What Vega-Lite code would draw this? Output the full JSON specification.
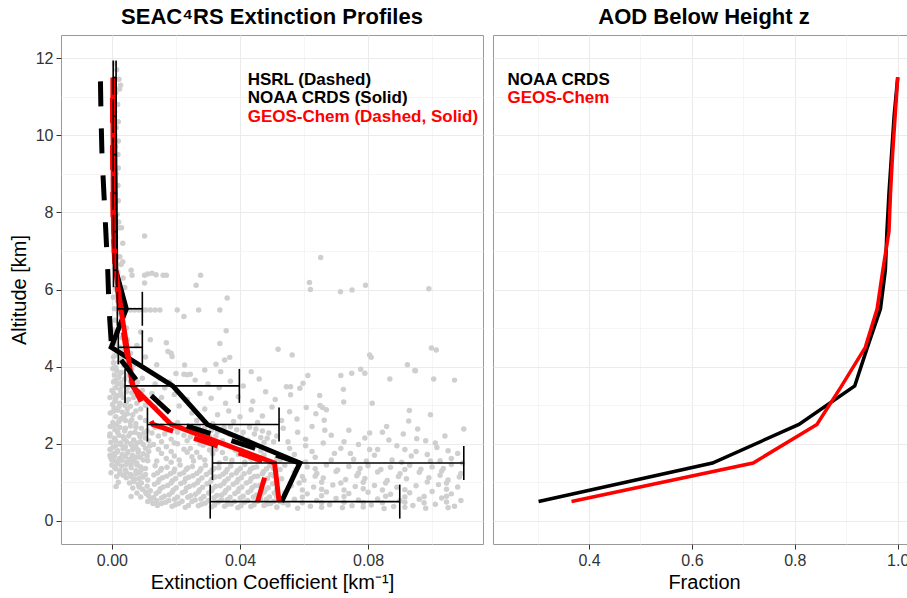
{
"$schema":"https://vega.github.io/schema/vega-lite/v6.json",
"padding":{"left":8,"top":5,"right":0,"bottom":0},
"bounds":"flush",
"spacing":10,
"config":{
 "font":"Liberation Sans",
 "view":{"stroke":"#999999","strokeWidth":1},
 "axis":{"labelFontSize":16,"labelColor":"#333333","titleFontSize":20,"titleFontWeight":"normal","titleColor":"black","tickColor":"#333333","tickSize":5,"domain":false,"labelPadding":3},
 "title":{"fontSize":22,"fontWeight":"bold","color":"black","anchor":"middle","offset":6}
},
"datasets":{
"pts":[
{"e":0.0008,"z":11.85},{"e":0.0015,"z":11.7},{"e":0.0022,"z":11.45},{"e":0.0027,"z":11.3},{"e":0.0024,"z":11.2},{"e":0.0012,"z":11.1},{"e":0.0005,"z":10.95},{"e":0.0018,"z":10.8},{"e":0.0009,"z":10.6},{"e":0.002,"z":10.35},{"e":0.0014,"z":10.2},{"e":0.0006,"z":10.05},{"e":0.002,"z":9.85},{"e":0.0011,"z":9.7},{"e":0.0019,"z":9.5},{"e":0.0008,"z":9.35},{"e":0.002,"z":9.15},{"e":0.0013,"z":9.0},{"e":0.0004,"z":8.85},{"e":0.0019,"z":8.7},{"e":0.001,"z":8.5},{"e":0.002,"z":8.3},{"e":0.0007,"z":8.15},{"e":0.0016,"z":7.95},{"e":0.0021,"z":7.75},{"e":0.0024,"z":7.6},{"e":0.003,"z":7.6},{"e":0.0034,"z":7.2},{"e":0.0012,"z":7.35},{"e":0.0005,"z":7.0},{"e":0.0025,"z":6.85},{"e":0.0029,"z":6.65},{"e":0.0034,"z":6.72},{"e":0.0008,"z":6.55},{"e":0.0018,"z":6.45},{"e":0.0035,"z":6.3},{"e":0.002,"z":6.2},{"e":0.004,"z":6.05},{"e":0.0012,"z":6.0},{"e":0.0027,"z":5.9},
{"e":0.0102,"z":7.39},{"e":0.0652,"z":6.83},{"e":0.0063,"z":6.37},{"e":0.0102,"z":6.37},{"e":0.0112,"z":6.4},{"e":0.0125,"z":6.42},{"e":0.0138,"z":6.38},{"e":0.016,"z":6.37},{"e":0.017,"z":6.37},{"e":0.0277,"z":6.37},{"e":0.0102,"z":6.17},{"e":0.0263,"z":6.11},{"e":0.0617,"z":6.18},{"e":0.062,"z":6.0},{"e":0.0714,"z":5.94},{"e":0.075,"z":5.99},{"e":0.0792,"z":6.11},{"e":0.099,"z":6.02},{"e":0.036,"z":5.78},{"e":0.006,"z":6.5},
{"e":0.0005,"z":5.8},{"e":0.0018,"z":5.7},{"e":0.003,"z":5.62},{"e":0.0008,"z":5.5},{"e":0.0022,"z":5.4},{"e":0.0035,"z":5.35},{"e":0.001,"z":5.2},{"e":0.0028,"z":5.1},{"e":0.0045,"z":5.0},{"e":0.0006,"z":4.95},{"e":0.0018,"z":4.85},{"e":0.0032,"z":4.75},{"e":0.0048,"z":4.7},{"e":0.0009,"z":4.6},{"e":0.0025,"z":4.5},{"e":0.004,"z":4.4},{"e":0.0058,"z":4.35},{"e":0.0012,"z":4.3},{"e":0.0028,"z":4.2},{"e":0.0045,"z":4.15},{"e":0.0005,"z":4.1},{"e":0.0068,"z":4.05},
{"e":0.003,"z":5.47},{"e":0.0045,"z":5.47},{"e":0.0058,"z":5.47},{"e":0.0071,"z":5.47},{"e":0.0084,"z":5.47},{"e":0.0097,"z":5.47},{"e":0.0106,"z":5.47},{"e":0.012,"z":5.47},{"e":0.0135,"z":5.47},{"e":0.015,"z":5.47},{"e":0.0204,"z":5.47},{"e":0.0271,"z":5.47},{"e":0.0337,"z":5.47},{"e":0.0225,"z":5.3},
{"e":0.0357,"z":4.93},{"e":0.0337,"z":4.6},{"e":0.0368,"z":4.24},{"e":0.0519,"z":4.45},{"e":0.0563,"z":4.3},{"e":0.017,"z":4.62},{"e":0.0175,"z":4.39},{"e":0.0185,"z":4.35},{"e":0.0188,"z":4.26},{"e":0.0805,"z":4.3},{"e":0.081,"z":4.24},{"e":0.0998,"z":4.48},{"e":0.1013,"z":4.43},{"e":0.009,"z":4.9},{"e":0.012,"z":4.7},{"e":0.0078,"z":4.55},{"e":0.0105,"z":4.25},{"e":0.014,"z":4.05},{"e":0.0227,"z":4.04},{"e":0.0352,"z":4.17},
{"e":0.0003,"z":3.95},{"e":0.0015,"z":3.9},{"e":0.003,"z":3.85},{"e":0.0008,"z":3.78},{"e":0.0022,"z":3.72},{"e":0.004,"z":3.68},{"e":0.0005,"z":3.6},{"e":0.0018,"z":3.55},{"e":0.0032,"z":3.5},{"e":0.0012,"z":3.45},{"e":0.0026,"z":3.4},{"e":0.0045,"z":3.35},{"e":0.0006,"z":3.3},{"e":0.002,"z":3.25},{"e":0.0035,"z":3.2},{"e":0.0052,"z":3.15},{"e":0.001,"z":3.1},{"e":0.0025,"z":3.05},{"e":0.004,"z":3.0},{"e":0.0058,"z":2.97},{"e":0.0007,"z":2.92},{"e":0.0018,"z":2.87},{"e":0.0032,"z":2.82},{"e":0.0048,"z":2.78},{"e":0.0065,"z":2.75},{"e":0.0012,"z":2.7},{"e":0.0028,"z":2.65},{"e":0.0042,"z":2.6},{"e":0.0057,"z":2.57},{"e":0.0003,"z":2.55},{"e":0.0075,"z":2.52},{"e":0.0015,"z":2.5},{"e":0.008,"z":3.6},{"e":0.0085,"z":3.25},{"e":0.009,"z":2.9},{"e":0.0068,"z":3.45},{"e":0.0095,"z":3.7},{"e":-0.0006,"z":3.2},{"e":-0.0005,"z":2.8},
{"e":0.02,"z":3.82},{"e":0.0225,"z":3.8},{"e":0.0235,"z":3.79},{"e":0.0245,"z":3.8},{"e":0.029,"z":3.91},{"e":0.0325,"z":4.06},{"e":0.034,"z":3.87},{"e":0.0435,"z":3.87},{"e":0.0545,"z":3.48},{"e":0.015,"z":3.7},{"e":0.0135,"z":3.55},{"e":0.0165,"z":3.45},{"e":0.018,"z":3.6},{"e":0.026,"z":3.65},{"e":0.03,"z":3.55},{"e":0.0335,"z":3.45},{"e":0.037,"z":3.62},{"e":0.041,"z":3.5},{"e":0.046,"z":3.68},{"e":0.0125,"z":3.3},{"e":0.0155,"z":3.2},{"e":0.0195,"z":3.28},{"e":0.0235,"z":3.15},{"e":0.0275,"z":3.3},{"e":0.031,"z":3.18},{"e":0.0355,"z":3.05},{"e":0.0395,"z":3.22},{"e":0.044,"z":3.1},{"e":0.048,"z":3.35},{"e":0.051,"z":3.15},{"e":0.0135,"z":2.95},{"e":0.0175,"z":2.85},{"e":0.021,"z":2.98},{"e":0.025,"z":2.8},{"e":0.029,"z":2.9},{"e":0.033,"z":2.75},{"e":0.0365,"z":2.85},{"e":0.04,"z":2.7},{"e":0.0435,"z":2.88},{"e":0.047,"z":2.72},{"e":0.05,"z":2.95},{"e":0.053,"z":2.6},{"e":0.0165,"z":2.65},{"e":0.0205,"z":2.55},{"e":0.0265,"z":2.6},{"e":0.0315,"z":2.52},{"e":0.038,"z":2.58},{"e":0.0455,"z":2.55},
{"e":0.0612,"z":3.77},{"e":0.0597,"z":3.57},{"e":0.0587,"z":3.44},{"e":0.0558,"z":3.48},{"e":0.0558,"z":3.27},{"e":0.0649,"z":3.25},{"e":0.0715,"z":3.77},{"e":0.0749,"z":3.83},{"e":0.0777,"z":3.93},{"e":0.079,"z":3.83},{"e":0.0723,"z":3.41},{"e":0.0724,"z":3.08},{"e":0.0813,"z":3.05},{"e":0.065,"z":2.99},{"e":0.0658,"z":2.94},{"e":0.067,"z":2.88},{"e":0.0607,"z":2.94},{"e":0.0637,"z":2.78},{"e":0.0663,"z":2.61},{"e":0.0578,"z":2.64},{"e":0.0555,"z":2.83},{"e":0.0923,"z":4.05},{"e":0.0946,"z":3.9},{"e":0.0948,"z":3.89},{"e":0.1005,"z":3.68},{"e":0.107,"z":3.65},{"e":0.0868,"z":3.68},{"e":0.0929,"z":2.86},{"e":0.0927,"z":2.59},{"e":0.0995,"z":2.75},{"e":0.1099,"z":2.38},{"e":0.0858,"z":2.45},{"e":0.0952,"z":2.13},
{"e":-0.0005,"z":2.45},{"e":0.0025,"z":2.42},{"e":0.0058,"z":2.46},{"e":0.0092,"z":2.4},{"e":0.001,"z":2.36},{"e":0.004,"z":2.33},{"e":0.0072,"z":2.3},{"e":0.011,"z":2.34},{"e":-0.0006,"z":2.25},{"e":0.0022,"z":2.22},{"e":0.0052,"z":2.2},{"e":0.0085,"z":2.24},{"e":0.0008,"z":2.14},{"e":0.0038,"z":2.12},{"e":0.0068,"z":2.1},{"e":0.0105,"z":2.15},{"e":-0.0003,"z":2.04},{"e":0.0027,"z":2.02},{"e":0.0058,"z":2.0},{"e":0.009,"z":2.05},{"e":0.0012,"z":1.95},{"e":0.0042,"z":1.92},{"e":0.0075,"z":1.9},{"e":0.0118,"z":1.94},{"e":-0.0006,"z":1.85},{"e":0.0018,"z":1.82},{"e":0.005,"z":1.8},{"e":0.0082,"z":1.84},{"e":0.0005,"z":1.74},{"e":0.0032,"z":1.72},{"e":0.0064,"z":1.7},{"e":0.0098,"z":1.74},{"e":-0.0004,"z":1.64},{"e":0.0024,"z":1.62},{"e":0.0056,"z":1.6},{"e":0.0088,"z":1.65},{"e":0.0012,"z":1.55},{"e":0.0045,"z":1.52},{"e":0.0078,"z":1.5},{"e":0.0112,"z":1.56},{"e":-0.0007,"z":2.2},{"e":-0.0006,"z":1.7},
{"e":0.0135,"z":2.42},{"e":0.0175,"z":2.35},{"e":0.021,"z":2.45},{"e":0.025,"z":2.3},{"e":0.029,"z":2.4},{"e":0.033,"z":2.32},{"e":0.037,"z":2.44},{"e":0.041,"z":2.3},{"e":0.045,"z":2.38},{"e":0.049,"z":2.28},{"e":0.0145,"z":2.2},{"e":0.0185,"z":2.12},{"e":0.0225,"z":2.22},{"e":0.0265,"z":2.1},{"e":0.0305,"z":2.18},{"e":0.0345,"z":2.08},{"e":0.0385,"z":2.2},{"e":0.0425,"z":2.1},{"e":0.0465,"z":2.16},{"e":0.0505,"z":2.05},{"e":0.013,"z":1.98},{"e":0.017,"z":1.92},{"e":0.0205,"z":2.0},{"e":0.0245,"z":1.88},{"e":0.0285,"z":1.96},{"e":0.0325,"z":1.86},{"e":0.0365,"z":1.95},{"e":0.0405,"z":1.85},{"e":0.0445,"z":1.93},{"e":0.0485,"z":1.84},{"e":0.0155,"z":1.75},{"e":0.0195,"z":1.68},{"e":0.0235,"z":1.78},{"e":0.0275,"z":1.65},{"e":0.0315,"z":1.74},{"e":0.0355,"z":1.62},{"e":0.0395,"z":1.72},{"e":0.0435,"z":1.6},{"e":0.0475,"z":1.7},{"e":0.0515,"z":1.62},{"e":0.014,"z":1.55},{"e":0.0185,"z":1.52},{"e":0.0255,"z":1.55},{"e":0.0335,"z":1.5},{"e":0.0415,"z":1.53},
{"e":0.0535,"z":2.4},{"e":0.058,"z":2.3},{"e":0.0625,"z":2.45},{"e":0.0685,"z":2.22},{"e":0.074,"z":2.35},{"e":0.079,"z":2.15},{"e":0.0845,"z":2.3},{"e":0.091,"z":2.25},{"e":0.098,"z":2.08},{"e":0.104,"z":2.2},{"e":0.055,"z":2.05},{"e":0.0605,"z":1.95},{"e":0.066,"z":2.02},{"e":0.0715,"z":1.88},{"e":0.077,"z":1.98},{"e":0.083,"z":1.85},{"e":0.089,"z":1.95},{"e":0.095,"z":1.8},{"e":0.1015,"z":1.9},{"e":0.108,"z":1.75},{"e":0.057,"z":1.72},{"e":0.0635,"z":1.65},{"e":0.0695,"z":1.75},{"e":0.0755,"z":1.6},{"e":0.082,"z":1.7},{"e":0.0875,"z":1.58},{"e":0.0935,"z":1.68},{"e":0.0995,"z":1.55},{"e":0.106,"z":1.62},{"e":0.1095,"z":1.5},
{"e":0.0,"z":1.45},{"e":0.003,"z":1.42},{"e":0.006,"z":1.47},{"e":0.009,"z":1.4},{"e":0.0012,"z":1.35},{"e":0.0042,"z":1.32},{"e":0.0075,"z":1.3},{"e":0.0105,"z":1.36},{"e":-0.0003,"z":1.25},{"e":0.0025,"z":1.22},{"e":0.0058,"z":1.2},{"e":0.0088,"z":1.24},{"e":0.0015,"z":1.15},{"e":0.0045,"z":1.12},{"e":0.0072,"z":1.08},{"e":0.0098,"z":1.14},{"e":0.0055,"z":0.98},{"e":0.0082,"z":0.95},{"e":0.0065,"z":0.85},{"e":0.0095,"z":0.82},{"e":0.0078,"z":0.72},{"e":0.0108,"z":0.7},{"e":0.009,"z":0.62},{"e":0.012,"z":0.55},{"e":0.0128,"z":0.45},{"e":0.0142,"z":0.4},{"e":0.0112,"z":0.5},{"e":0.0013,"z":0.89},{"e":0.006,"z":0.63},{"e":0.002,"z":1.0},
{"e":0.0135,"z":1.43},{"e":0.0172,"z":1.39},{"e":0.0213,"z":1.45},{"e":0.0251,"z":1.41},{"e":0.0292,"z":1.44},{"e":0.0334,"z":1.38},{"e":0.0371,"z":1.42},{"e":0.0415,"z":1.46},{"e":0.0452,"z":1.4},{"e":0.0493,"z":1.43},
{"e":0.0152,"z":1.31},{"e":0.0193,"z":1.27},{"e":0.0232,"z":1.33},{"e":0.0274,"z":1.29},{"e":0.0313,"z":1.32},{"e":0.0355,"z":1.26},{"e":0.0392,"z":1.3},{"e":0.0433,"z":1.34},{"e":0.0474,"z":1.28},
{"e":0.0131,"z":1.19},{"e":0.0171,"z":1.16},{"e":0.0212,"z":1.21},{"e":0.0253,"z":1.17},{"e":0.0295,"z":1.2},{"e":0.0336,"z":1.15},{"e":0.0374,"z":1.19},{"e":0.0413,"z":1.22},{"e":0.0455,"z":1.16},{"e":0.0496,"z":1.2},
{"e":0.0148,"z":1.07},{"e":0.0189,"z":1.04},{"e":0.023,"z":1.09},{"e":0.0271,"z":1.05},{"e":0.0312,"z":1.08},{"e":0.0353,"z":1.03},{"e":0.0394,"z":1.07},{"e":0.0435,"z":1.1},{"e":0.0476,"z":1.04},
{"e":0.0133,"z":0.95},{"e":0.0174,"z":0.92},{"e":0.0215,"z":0.97},{"e":0.0256,"z":0.93},{"e":0.0297,"z":0.96},{"e":0.0338,"z":0.91},{"e":0.0379,"z":0.95},{"e":0.042,"z":0.98},{"e":0.0461,"z":0.92},{"e":0.0502,"z":0.96},
{"e":0.0151,"z":0.83},{"e":0.0192,"z":0.8},{"e":0.0233,"z":0.85},{"e":0.0274,"z":0.81},{"e":0.0315,"z":0.84},{"e":0.0356,"z":0.79},{"e":0.0397,"z":0.83},{"e":0.0438,"z":0.86},{"e":0.0479,"z":0.8},
{"e":0.0138,"z":0.71},{"e":0.0179,"z":0.68},{"e":0.022,"z":0.73},{"e":0.0261,"z":0.69},{"e":0.0302,"z":0.72},{"e":0.0343,"z":0.67},{"e":0.0384,"z":0.71},{"e":0.0425,"z":0.74},{"e":0.0466,"z":0.68},{"e":0.0507,"z":0.72},
{"e":0.0155,"z":0.59},{"e":0.0196,"z":0.56},{"e":0.0237,"z":0.61},{"e":0.0278,"z":0.57},{"e":0.0319,"z":0.6},{"e":0.036,"z":0.55},{"e":0.0401,"z":0.59},{"e":0.0442,"z":0.62},{"e":0.0483,"z":0.56},
{"e":0.0168,"z":0.48},{"e":0.0209,"z":0.45},{"e":0.025,"z":0.5},{"e":0.0291,"z":0.46},{"e":0.0332,"z":0.49},{"e":0.0373,"z":0.44},{"e":0.0414,"z":0.48},{"e":0.0455,"z":0.51},{"e":0.0496,"z":0.45},
{"e":0.0188,"z":0.38},{"e":0.0229,"z":0.35},{"e":0.027,"z":0.39},{"e":0.0311,"z":0.36},{"e":0.0352,"z":0.38},{"e":0.0393,"z":0.34},{"e":0.0434,"z":0.37},{"e":0.0475,"z":0.4},{"e":0.0515,"z":0.35},
{"e":0.054,"z":1.44},{"e":0.061,"z":1.4},{"e":0.067,"z":1.45},{"e":0.074,"z":1.41},{"e":0.08,"z":1.43},{"e":0.087,"z":1.39},{"e":0.093,"z":1.44},{"e":0.1,"z":1.4},{"e":0.106,"z":1.46},
{"e":0.057,"z":1.26},{"e":0.064,"z":1.23},{"e":0.07,"z":1.28},{"e":0.077,"z":1.24},{"e":0.083,"z":1.27},{"e":0.09,"z":1.22},{"e":0.096,"z":1.26},{"e":0.103,"z":1.29},{"e":0.109,"z":1.23},
{"e":0.053,"z":1.09},{"e":0.06,"z":1.06},{"e":0.066,"z":1.11},{"e":0.073,"z":1.07},{"e":0.079,"z":1.1},{"e":0.086,"z":1.05},{"e":0.092,"z":1.09},{"e":0.099,"z":1.12},{"e":0.105,"z":1.06},
{"e":0.056,"z":0.91},{"e":0.063,"z":0.88},{"e":0.069,"z":0.93},{"e":0.076,"z":0.89},{"e":0.082,"z":0.92},{"e":0.089,"z":0.87},{"e":0.095,"z":0.91},{"e":0.102,"z":0.94},{"e":0.108,"z":0.88},
{"e":0.054,"z":0.73},{"e":0.061,"z":0.7},{"e":0.067,"z":0.75},{"e":0.074,"z":0.71},{"e":0.08,"z":0.74},{"e":0.087,"z":0.69},{"e":0.093,"z":0.73},{"e":0.1,"z":0.76},{"e":0.106,"z":0.7},
{"e":0.057,"z":0.56},{"e":0.064,"z":0.53},{"e":0.07,"z":0.58},{"e":0.077,"z":0.54},{"e":0.083,"z":0.57},{"e":0.09,"z":0.52},{"e":0.096,"z":0.56},{"e":0.103,"z":0.59},{"e":0.109,"z":0.53},
{"e":0.055,"z":0.41},{"e":0.062,"z":0.38},{"e":0.068,"z":0.42},{"e":0.075,"z":0.39},{"e":0.081,"z":0.41},{"e":0.088,"z":0.37},{"e":0.094,"z":0.4},{"e":0.101,"z":0.43},{"e":0.107,"z":0.38},
{"e":0.058,"z":0.33},{"e":0.072,"z":0.34},{"e":0.085,"z":0.32},{"e":0.098,"z":0.33},{"e":0.105,"z":0.34},
{"e":0.0525,"z":1.33},{"e":0.0595,"z":1.15},{"e":0.0715,"z":0.98},{"e":0.0845,"z":0.8},{"e":0.0975,"z":0.63},{"e":0.0535,"z":0.47},{"e":0.0655,"z":0.47},{"e":0.0785,"z":0.47},{"e":0.0915,"z":1.33},{"e":0.1045,"z":0.98},
{"e":0.0155,"z":1.36},{"e":0.0196,"z":1.34},{"e":0.0237,"z":1.37},{"e":0.0278,"z":1.35},{"e":0.0319,"z":1.36},{"e":0.036,"z":1.33},{"e":0.0401,"z":1.36},{"e":0.0442,"z":1.38},{"e":0.0483,"z":1.35},
{"e":0.0142,"z":1.24},{"e":0.0183,"z":1.22},{"e":0.0224,"z":1.25},{"e":0.0265,"z":1.23},{"e":0.0306,"z":1.26},{"e":0.0347,"z":1.21},{"e":0.0388,"z":1.24},{"e":0.0429,"z":1.27},{"e":0.047,"z":1.22},{"e":0.0511,"z":1.25},
{"e":0.0158,"z":1.12},{"e":0.0199,"z":1.1},{"e":0.024,"z":1.13},{"e":0.0281,"z":1.11},{"e":0.0322,"z":1.14},{"e":0.0363,"z":1.09},{"e":0.0404,"z":1.12},{"e":0.0445,"z":1.15},{"e":0.0486,"z":1.1},
{"e":0.0144,"z":1.0},{"e":0.0185,"z":0.98},{"e":0.0226,"z":1.01},{"e":0.0267,"z":0.99},{"e":0.0308,"z":1.02},{"e":0.0349,"z":0.97},{"e":0.039,"z":1.0},{"e":0.0431,"z":1.03},{"e":0.0472,"z":0.98},{"e":0.0513,"z":1.01},
{"e":0.016,"z":0.88},{"e":0.0201,"z":0.86},{"e":0.0242,"z":0.89},{"e":0.0283,"z":0.87},{"e":0.0324,"z":0.9},{"e":0.0365,"z":0.85},{"e":0.0406,"z":0.88},{"e":0.0447,"z":0.91},{"e":0.0488,"z":0.86},
{"e":0.0147,"z":0.76},{"e":0.0188,"z":0.74},{"e":0.0229,"z":0.77},{"e":0.027,"z":0.75},{"e":0.0311,"z":0.78},{"e":0.0352,"z":0.73},{"e":0.0393,"z":0.76},{"e":0.0434,"z":0.79},{"e":0.0475,"z":0.74},{"e":0.0516,"z":0.77},
{"e":0.0164,"z":0.64},{"e":0.0205,"z":0.62},{"e":0.0246,"z":0.65},{"e":0.0287,"z":0.63},{"e":0.0328,"z":0.66},{"e":0.0369,"z":0.61},{"e":0.041,"z":0.64},{"e":0.0451,"z":0.67},{"e":0.0492,"z":0.62},
{"e":0.0178,"z":0.53},{"e":0.0219,"z":0.51},{"e":0.026,"z":0.54},{"e":0.0301,"z":0.52},{"e":0.0342,"z":0.55},{"e":0.0383,"z":0.5},{"e":0.0424,"z":0.53},{"e":0.0465,"z":0.56},{"e":0.0506,"z":0.51},
{"e":0.0198,"z":0.42},{"e":0.0239,"z":0.4},{"e":0.028,"z":0.43},{"e":0.0321,"z":0.41},{"e":0.0362,"z":0.43},{"e":0.0403,"z":0.39},{"e":0.0444,"z":0.42},{"e":0.0485,"z":0.44},
{"e":0.0015,"z":4.45},{"e":0.0035,"z":4.38},{"e":0.0005,"z":4.25},{"e":0.0022,"z":4.12},{"e":0.0052,"z":4.22},{"e":0.0038,"z":4.02},{"e":0.0012,"z":3.98},{"e":0.0062,"z":3.92},
{"e":0.0025,"z":3.82},{"e":0.0052,"z":3.78},{"e":0.007,"z":3.72},{"e":0.0012,"z":3.65},{"e":0.0058,"z":3.62},{"e":0.0028,"z":3.58},{"e":0.0075,"z":3.52},{"e":0.0048,"z":3.45},{"e":0.0,"z":3.38},{"e":0.0062,"z":3.32},{"e":0.0095,"z":3.38},{"e":0.0028,"z":3.3},{"e":0.0012,"z":3.18},{"e":0.0068,"z":3.2},{"e":0.0045,"z":3.08},{"e":0.0078,"z":3.05},{"e":0.0002,"z":3.02},{"e":0.0022,"z":2.96},{"e":0.0105,"z":3.0},{"e":0.0048,"z":2.9},{"e":0.0075,"z":2.85},{"e":0.0005,"z":2.84},{"e":0.0038,"z":2.72},{"e":0.0088,"z":2.68},{"e":0.0022,"z":2.58},{"e":0.0062,"z":2.62},{"e":0.0105,"z":2.6},
{"e":0.0008,"z":2.48},{"e":0.0042,"z":2.4},{"e":0.0075,"z":2.43},{"e":0.0018,"z":2.3},{"e":0.0058,"z":2.27},{"e":0.01,"z":2.28},{"e":0.0035,"z":2.18},{"e":0.0088,"z":2.18},{"e":0.0012,"z":2.08},{"e":0.0045,"z":2.06},{"e":0.0078,"z":2.02},{"e":0.0115,"z":2.08},{"e":0.0028,"z":1.98},{"e":0.0062,"z":1.96},{"e":0.0098,"z":1.98},{"e":0.0003,"z":1.9},{"e":0.0035,"z":1.87},{"e":0.0065,"z":1.85},{"e":0.0105,"z":1.88},{"e":0.0015,"z":1.78},{"e":0.0048,"z":1.76},{"e":0.0082,"z":1.78},{"e":0.0115,"z":1.8},{"e":0.0008,"z":1.68},{"e":0.0042,"z":1.66},{"e":0.0075,"z":1.65},{"e":0.011,"z":1.68},{"e":0.0,"z":1.58},{"e":0.003,"z":1.57},{"e":0.0068,"z":1.56},{"e":0.0098,"z":1.58},
{"e":0.0018,"z":1.48},{"e":0.0045,"z":1.46},{"e":0.0078,"z":1.45},{"e":0.0008,"z":1.4},{"e":0.006,"z":1.38},{"e":0.0092,"z":1.33},{"e":0.0025,"z":1.3},{"e":0.0045,"z":1.26},{"e":0.0075,"z":1.22},{"e":0.0105,"z":1.2},{"e":0.0035,"z":1.18},{"e":0.0062,"z":1.14},{"e":0.0085,"z":1.1},{"e":0.0112,"z":1.06},{"e":0.0068,"z":1.02},{"e":0.0092,"z":0.98},{"e":0.011,"z":0.9},{"e":0.0085,"z":0.88},{"e":0.012,"z":0.78},{"e":0.0105,"z":0.75},{"e":0.0115,"z":0.65},{"e":0.013,"z":0.6},{"e":0.014,"z":0.52},{"e":0.0155,"z":0.45},
{"e":0.0155,"z":2.47},{"e":0.0195,"z":2.4},{"e":0.023,"z":2.37},{"e":0.027,"z":2.45},{"e":0.031,"z":2.35},{"e":0.035,"z":2.42},{"e":0.039,"z":2.36},{"e":0.043,"z":2.43},{"e":0.047,"z":2.33},
{"e":0.0125,"z":2.28},{"e":0.0165,"z":2.25},{"e":0.0205,"z":2.3},{"e":0.0245,"z":2.18},{"e":0.0285,"z":2.27},{"e":0.0325,"z":2.2},{"e":0.0365,"z":2.26},{"e":0.0405,"z":2.17},{"e":0.0445,"z":2.25},{"e":0.0485,"z":2.14},
{"e":0.0155,"z":2.05},{"e":0.0195,"z":2.02},{"e":0.0235,"z":2.08},{"e":0.0275,"z":2.0},{"e":0.0315,"z":2.06},{"e":0.0355,"z":1.98},{"e":0.0395,"z":2.04},{"e":0.0435,"z":1.97},{"e":0.0475,"z":2.03},
{"e":0.0145,"z":1.86},{"e":0.0185,"z":1.8},{"e":0.0225,"z":1.86},{"e":0.0265,"z":1.78},{"e":0.0305,"z":1.84},{"e":0.0345,"z":1.77},{"e":0.0385,"z":1.83},{"e":0.0425,"z":1.76},{"e":0.0465,"z":1.82},
{"e":0.017,"z":1.62},{"e":0.021,"z":1.58},{"e":0.025,"z":1.66},{"e":0.029,"z":1.58},{"e":0.0375,"z":1.57},{"e":0.0455,"z":1.56},{"e":0.0495,"z":1.53},
{"e":0.0505,"z":1.36},{"e":0.0575,"z":1.33},{"e":0.0635,"z":1.35},{"e":0.0705,"z":1.32},{"e":0.0775,"z":1.36},{"e":0.084,"z":1.33},{"e":0.0965,"z":1.34},{"e":0.1035,"z":1.36},
{"e":0.0505,"z":1.17},{"e":0.0635,"z":1.16},{"e":0.0765,"z":1.17},{"e":0.0895,"z":1.15},{"e":0.1025,"z":1.18},{"e":0.1085,"z":1.14},
{"e":0.0515,"z":1.0},{"e":0.0585,"z":0.98},{"e":0.0655,"z":1.0},{"e":0.0785,"z":1.0},{"e":0.0855,"z":0.98},{"e":0.0985,"z":1.01},
{"e":0.0515,"z":0.82},{"e":0.0595,"z":0.8},{"e":0.0655,"z":0.82},{"e":0.0725,"z":0.8},{"e":0.0785,"z":0.83},{"e":0.0915,"z":0.81},{"e":0.1045,"z":0.82},
{"e":0.0515,"z":0.64},{"e":0.0595,"z":0.62},{"e":0.0655,"z":0.65},{"e":0.0725,"z":0.63},{"e":0.0855,"z":0.64},{"e":0.0915,"z":0.62},{"e":0.1045,"z":0.64},
{"e":0.0525,"z":0.5},{"e":0.0595,"z":0.47},{"e":0.0725,"z":0.48},{"e":0.0845,"z":0.47},{"e":0.0915,"z":0.48},{"e":0.0975,"z":0.47},{"e":0.1045,"z":0.49},
{"e":0.0515,"z":0.36},{"e":0.0655,"z":0.35},{"e":0.0785,"z":0.36},{"e":0.0915,"z":0.35},
{"e":0.0515,"z":2.2},{"e":0.0605,"z":2.12},{"e":0.0665,"z":2.35},{"e":0.0725,"z":2.05},{"e":0.0805,"z":2.28},{"e":0.0865,"z":2.1},{"e":0.0955,"z":2.38},{"e":0.101,"z":2.02},{"e":0.0555,"z":1.88},{"e":0.0625,"z":1.8},{"e":0.0745,"z":1.75},{"e":0.0805,"z":1.85},{"e":0.0915,"z":1.85},{"e":0.0985,"z":1.72},{"e":0.105,"z":1.82},{"e":0.0525,"z":1.55},{"e":0.0605,"z":1.53},{"e":0.0685,"z":1.58},{"e":0.0795,"z":1.55},{"e":0.0905,"z":1.52},{"e":0.1025,"z":1.56}
],
"prof":[
{"s":"HSRL","z":1.5,"e":0.0587},{"s":"HSRL","z":2.5,"e":0.022},{"s":"HSRL","z":3.5,"e":0.009},{"s":"HSRL","z":4.5,"e":-0.0001},{"s":"HSRL","z":5.5,"e":-0.0009},{"s":"HSRL","z":6.5,"e":-0.0013},{"s":"HSRL","z":7.5,"e":-0.0019},{"s":"HSRL","z":8.5,"e":-0.0025},{"s":"HSRL","z":9.5,"e":-0.0031},{"s":"HSRL","z":10.5,"e":-0.0034},{"s":"HSRL","z":11.5,"e":-0.0036},
{"s":"CRDS","z":0.5,"e":0.053},{"s":"CRDS","z":1.5,"e":0.0587},{"s":"CRDS","z":2.5,"e":0.0298},{"s":"CRDS","z":3.5,"e":0.019},{"s":"CRDS","z":4.5,"e":-0.0002},{"s":"CRDS","z":5.5,"e":0.0045},{"s":"CRDS","z":6.5,"e":0.0012},{"s":"CRDS","z":7.5,"e":0.0011},{"s":"CRDS","z":8.5,"e":0.001},{"s":"CRDS","z":9.5,"e":0.0009},{"s":"CRDS","z":10.5,"e":0.0008},{"s":"CRDS","z":11.5,"e":0.0008},
{"s":"GC_HSRL","z":0.5,"e":0.0455},{"s":"GC_HSRL","z":1.5,"e":0.049},{"s":"GC_HSRL","z":2.5,"e":0.0128},{"s":"GC_HSRL","z":3.5,"e":0.0066},{"s":"GC_HSRL","z":4.5,"e":0.0043},{"s":"GC_HSRL","z":5.5,"e":0.0025},{"s":"GC_HSRL","z":6.5,"e":0.001},{"s":"GC_HSRL","z":7.5,"e":0.0004},{"s":"GC_HSRL","z":8.5,"e":0.0003},{"s":"GC_HSRL","z":9.5,"e":0.0002},{"s":"GC_HSRL","z":10.5,"e":0.0002},{"s":"GC_HSRL","z":11.5,"e":0.0001},
{"s":"GC_CRDS","z":0.5,"e":0.0522},{"s":"GC_CRDS","z":1.5,"e":0.0508},{"s":"GC_CRDS","z":2.5,"e":0.0185},{"s":"GC_CRDS","z":3.5,"e":0.0064},{"s":"GC_CRDS","z":4.5,"e":0.0047},{"s":"GC_CRDS","z":5.5,"e":0.0028},{"s":"GC_CRDS","z":6.5,"e":0.0012},{"s":"GC_CRDS","z":7.5,"e":0.0005},{"s":"GC_CRDS","z":8.5,"e":0.0004},{"s":"GC_CRDS","z":9.5,"e":0.0004},{"s":"GC_CRDS","z":10.5,"e":0.0003},{"s":"GC_CRDS","z":11.5,"e":0.0003}
],
"err":[
{"z":11.5,"lo":0.0004,"hi":0.0013},{"z":10.5,"lo":0.0004,"hi":0.0013},{"z":9.5,"lo":0.0004,"hi":0.0013},{"z":8.5,"lo":0.0004,"hi":0.0014},{"z":7.5,"lo":0.0005,"hi":0.0015},{"z":6.5,"lo":0.0005,"hi":0.0016},{"z":5.5,"lo":0.0017,"hi":0.0095},{"z":4.5,"lo":0.002,"hi":0.0095},{"z":3.5,"lo":0.0041,"hi":0.0398},{"z":2.5,"lo":0.0111,"hi":0.0522},{"z":1.5,"lo":0.0314,"hi":0.1099},{"z":0.5,"lo":0.0307,"hi":0.0899}
],
"frac":[
{"s":"CRDS","z":0.5,"f":0.302},{"s":"CRDS","z":1.5,"f":0.64},{"s":"CRDS","z":2.5,"f":0.808},{"s":"CRDS","z":3.5,"f":0.9165},{"s":"CRDS","z":4.5,"f":0.941},{"s":"CRDS","z":5.5,"f":0.9665},{"s":"CRDS","z":6.5,"f":0.976},{"s":"CRDS","z":7.5,"f":0.979},{"s":"CRDS","z":8.5,"f":0.983},{"s":"CRDS","z":9.5,"f":0.988},{"s":"CRDS","z":10.5,"f":0.993},{"s":"CRDS","z":11.5,"f":1.0},
{"s":"GC","z":0.5,"f":0.366},{"s":"GC","z":1.5,"f":0.719},{"s":"GC","z":2.5,"f":0.843},{"s":"GC","z":3.5,"f":0.891},{"s":"GC","z":4.5,"f":0.937},{"s":"GC","z":5.5,"f":0.96},{"s":"GC","z":6.5,"f":0.971},{"s":"GC","z":7.5,"f":0.983},{"s":"GC","z":8.5,"f":0.986},{"s":"GC","z":9.5,"f":0.99},{"s":"GC","z":10.5,"f":0.995},{"s":"GC","z":11.5,"f":1.0}
]
},
"hconcat":[
{
 "width":422,"height":509,
 "title":{"text":"SEAC⁴RS Extinction Profiles"},
 "layer":[
  {"data":{"name":"pts"},"mark":{"type":"circle","size":30,"color":"#CFCFCF","opacity":1,"clip":true},
   "encoding":{
    "x":{"field":"e","type":"quantitative","scale":{"domain":[-0.0159,0.1159],"nice":false,"zero":false},
     "axis":{"title":"Extinction Coefficient [km⁻¹]","values":[0,0.02,0.04,0.06,0.08,0.1],
      "labelExpr":"abs(datum.value*25-round(datum.value*25))>0.01 ? '' : format(datum.value,'.2f')",
      "gridColor":{"condition":{"test":"abs(datum.value*25-round(datum.value*25))>0.01","value":"#F3F3F3"},"value":"#EBEBEB"},
      "gridWidth":{"condition":{"test":"abs(datum.value*25-round(datum.value*25))>0.01","value":0.8},"value":1.1},
      "tickOpacity":{"condition":{"test":"abs(datum.value*25-round(datum.value*25))>0.01","value":0},"value":1}}},
    "y":{"field":"z","type":"quantitative","scale":{"domain":[-0.6,12.6],"nice":false,"zero":false},
     "axis":{"title":"Altitude [km]","values":[0,1,2,3,4,5,6,7,8,9,10,11,12],"titlePadding":6,
      "labelExpr":"datum.value%2==1 ? '' : datum.label",
      "gridColor":{"condition":{"test":"datum.value%2==1","value":"#F3F3F3"},"value":"#EBEBEB"},
      "gridWidth":{"condition":{"test":"datum.value%2==1","value":0.8},"value":1.1},
      "tickOpacity":{"condition":{"test":"datum.value%2==1","value":0},"value":1}}}
   }},
  {"data":{"name":"prof"},"transform":[{"filter":"datum.s==='CRDS'"}],"mark":{"type":"line","color":"black","strokeWidth":5,"clip":true},
   "encoding":{"x":{"field":"e","type":"quantitative"},"y":{"field":"z","type":"quantitative"},"order":{"field":"z","type":"quantitative"}}},
  {"data":{"name":"prof"},"transform":[{"filter":"datum.s==='GC_HSRL'"}],"mark":{"type":"line","color":"#FF0000","strokeWidth":5,"strokeDash":[25,22],"clip":true},
   "encoding":{"x":{"field":"e","type":"quantitative"},"y":{"field":"z","type":"quantitative"},"order":{"field":"z","type":"quantitative"}}},
  {"data":{"name":"prof"},"transform":[{"filter":"datum.s==='GC_CRDS'"}],"mark":{"type":"line","color":"#FF0000","strokeWidth":5,"clip":true},
   "encoding":{"x":{"field":"e","type":"quantitative"},"y":{"field":"z","type":"quantitative"},"order":{"field":"z","type":"quantitative"}}},
  {"data":{"name":"prof"},"transform":[{"filter":"datum.s==='HSRL'"}],"mark":{"type":"line","color":"black","strokeWidth":5,"strokeDash":[25,22],"clip":true},
   "encoding":{"x":{"field":"e","type":"quantitative"},"y":{"field":"z","type":"quantitative"},"order":{"field":"z","type":"quantitative"}}},
  {"data":{"name":"err"},"mark":{"type":"rule","color":"black","strokeWidth":1.6},
   "encoding":{"x":{"field":"lo","type":"quantitative"},"x2":{"field":"hi"},"y":{"field":"z","type":"quantitative"}}},
  {"data":{"name":"err"},"mark":{"type":"tick","orient":"vertical","size":34,"thickness":1.6,"color":"black","opacity":1},
   "encoding":{"x":{"field":"lo","type":"quantitative"},"y":{"field":"z","type":"quantitative"}}},
  {"data":{"name":"err"},"mark":{"type":"tick","orient":"vertical","size":34,"thickness":1.6,"color":"black","opacity":1},
   "encoding":{"x":{"field":"hi","type":"quantitative"},"y":{"field":"z","type":"quantitative"}}},
  {"data":{"values":[{}]},"mark":{"type":"text","align":"left","baseline":"alphabetic","fontSize":17,"fontWeight":"bold","color":"black"},
   "encoding":{"x":{"datum":0.0424,"type":"quantitative"},"y":{"datum":11.3,"type":"quantitative"},"text":{"value":"HSRL (Dashed)"}}},
  {"data":{"values":[{}]},"mark":{"type":"text","align":"left","baseline":"alphabetic","fontSize":17,"fontWeight":"bold","color":"black"},
   "encoding":{"x":{"datum":0.0424,"type":"quantitative"},"y":{"datum":10.83,"type":"quantitative"},"text":{"value":"NOAA CRDS (Solid)"}}},
  {"data":{"values":[{}]},"mark":{"type":"text","align":"left","baseline":"alphabetic","fontSize":17,"fontWeight":"bold","color":"#FF0000"},
   "encoding":{"x":{"datum":0.0424,"type":"quantitative"},"y":{"datum":10.35,"type":"quantitative"},"text":{"value":"GEOS-Chem (Dashed, Solid)"}}}
 ]
},
{
 "width":422,"height":509,
 "title":{"text":"AOD Below Height z"},
 "layer":[
  {"data":{"name":"frac"},"transform":[{"filter":"datum.s==='CRDS'"}],"mark":{"type":"line","color":"black","strokeWidth":3.5,"clip":true},
   "encoding":{
    "x":{"field":"f","type":"quantitative","scale":{"domain":[0.2134,1.0336],"nice":false,"zero":false},
     "axis":{"title":"Fraction","values":[0.3,0.4,0.5,0.6,0.7,0.8,0.9,1.0],
      "labelExpr":"abs(datum.value*5-round(datum.value*5))>0.01 ? '' : format(datum.value,'.1f')",
      "gridColor":{"condition":{"test":"abs(datum.value*5-round(datum.value*5))>0.01","value":"#F3F3F3"},"value":"#EBEBEB"},
      "gridWidth":{"condition":{"test":"abs(datum.value*5-round(datum.value*5))>0.01","value":0.8},"value":1.1},
      "tickOpacity":{"condition":{"test":"abs(datum.value*5-round(datum.value*5))>0.01","value":0},"value":1}}},
    "y":{"field":"z","type":"quantitative","scale":{"domain":[-0.6,12.6],"nice":false,"zero":false},
     "axis":{"title":null,"labels":false,"ticks":false,"values":[0,1,2,3,4,5,6,7,8,9,10,11,12],
      "gridColor":{"condition":{"test":"datum.value%2==1","value":"#F3F3F3"},"value":"#EBEBEB"},
      "gridWidth":{"condition":{"test":"datum.value%2==1","value":0.8},"value":1.1}}},
    "order":{"field":"z","type":"quantitative"}
   }},
  {"data":{"name":"frac"},"transform":[{"filter":"datum.s==='GC'"}],"mark":{"type":"line","color":"#FF0000","strokeWidth":3.5,"clip":true},
   "encoding":{"x":{"field":"f","type":"quantitative"},"y":{"field":"z","type":"quantitative"},"order":{"field":"z","type":"quantitative"}}},
  {"data":{"values":[{}]},"mark":{"type":"text","align":"left","baseline":"alphabetic","fontSize":17,"fontWeight":"bold","color":"black"},
   "encoding":{"x":{"datum":0.2414,"type":"quantitative"},"y":{"datum":11.31,"type":"quantitative"},"text":{"value":"NOAA CRDS"}}},
  {"data":{"values":[{}]},"mark":{"type":"text","align":"left","baseline":"alphabetic","fontSize":17,"fontWeight":"bold","color":"#FF0000"},
   "encoding":{"x":{"datum":0.2414,"type":"quantitative"},"y":{"datum":10.83,"type":"quantitative"},"text":{"value":"GEOS-Chem"}}}
 ]
}
]
}
